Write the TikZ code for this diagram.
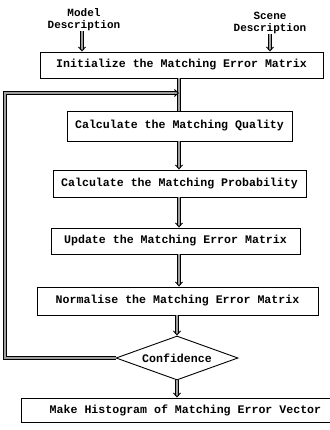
\documentclass[tikz,border=0pt]{standalone}
\usepackage{fontspec}
\setmonofont{Liberation Mono}
\usetikzlibrary{arrows.meta,shapes.geometric}
\begin{document}
\begin{tikzpicture}[x=1pt,y=-1pt,
  txt/.style={font=\ttfamily\bfseries\fontsize{11}{12}\selectfont, inner sep=0pt},
  stepbox/.style={draw, line width=0.9pt, minimum height=26pt, inner sep=0pt,
    font=\ttfamily\bfseries\fontsize{11.6}{13}\selectfont},
  decide/.style={draw, shape=diamond, line width=0.9pt, minimum width=122pt,
    minimum height=44pt, inner sep=0pt, aspect=2.8,
    font=\ttfamily\bfseries\fontsize{11.6}{13}\selectfont},
  flow/.style={line width=0.9pt, double=gray!75, double distance=1.4pt},
  flowarrow/.style={flow, -{Straight Barb[length=4pt,width=7pt,line width=0.9pt]}}
]
\useasboundingbox (0,0) rectangle (329,430);

% input labels
\node[txt, align=center] (model) at (84,20) {Model\\Description};
\node[txt, align=center] (scene) at (270,23) {Scene\\Description};

% processing steps
\node[stepbox, minimum width=283pt] (init)  at (181.5,65)  {Initialize the Matching Error Matrix};
\node[stepbox, minimum width=225pt, minimum height=30pt] (qual) at (179.5,126) {Calculate the Matching Quality};
\node[stepbox, minimum width=253pt, minimum height=27pt] (prob) at (179.5,183.5) {Calculate the Matching Probability};
\node[stepbox, minimum width=249pt] (upd)   at (175.5,241)  {Update the Matching Error Matrix};
\node[stepbox, minimum width=281pt, minimum height=28pt] (norm) at (177.5,301) {Normalise the Matching Error Matrix};
\node[decide] (conf) at (177,358) {Confidence};
\node[stepbox, minimum width=320pt, minimum height=24pt, anchor=west] (hist) at (21,410) {\hspace*{8pt}Make Histogram of Matching Error Vector\hfill};

% spine of the flow
\coordinate (sx) at (179,0);
\coordinate (loopin) at (179,93);
\coordinate (loopa) at (5,355);
\coordinate (loopb) at (5,93);

\draw[flowarrow] (model.south -| 82,0) -- (init.north -| 82,0);
\draw[flowarrow] (scene.south -| 270,0) -- (init.north -| 270,0);

\draw[flow] (init.south -| sx) -- (qual.north -| sx);
\draw[flowarrow] (qual.south -| sx) -- (prob.north -| sx);
\draw[flowarrow] (prob.south -| sx) -- (upd.north -| sx);
\draw[flowarrow] (upd.south -| sx) -- (norm.north -| sx);
\draw[flowarrow] (norm.south -| conf.north) -- (conf.north);
\draw[flowarrow] (conf.south) -- (hist.north -| conf.south);

% feedback loop
\draw[flowarrow, line width=1.1pt] (conf.west) -- (conf.west -| loopa) -- (loopb) -- (loopin);
\end{tikzpicture}
\end{document}
